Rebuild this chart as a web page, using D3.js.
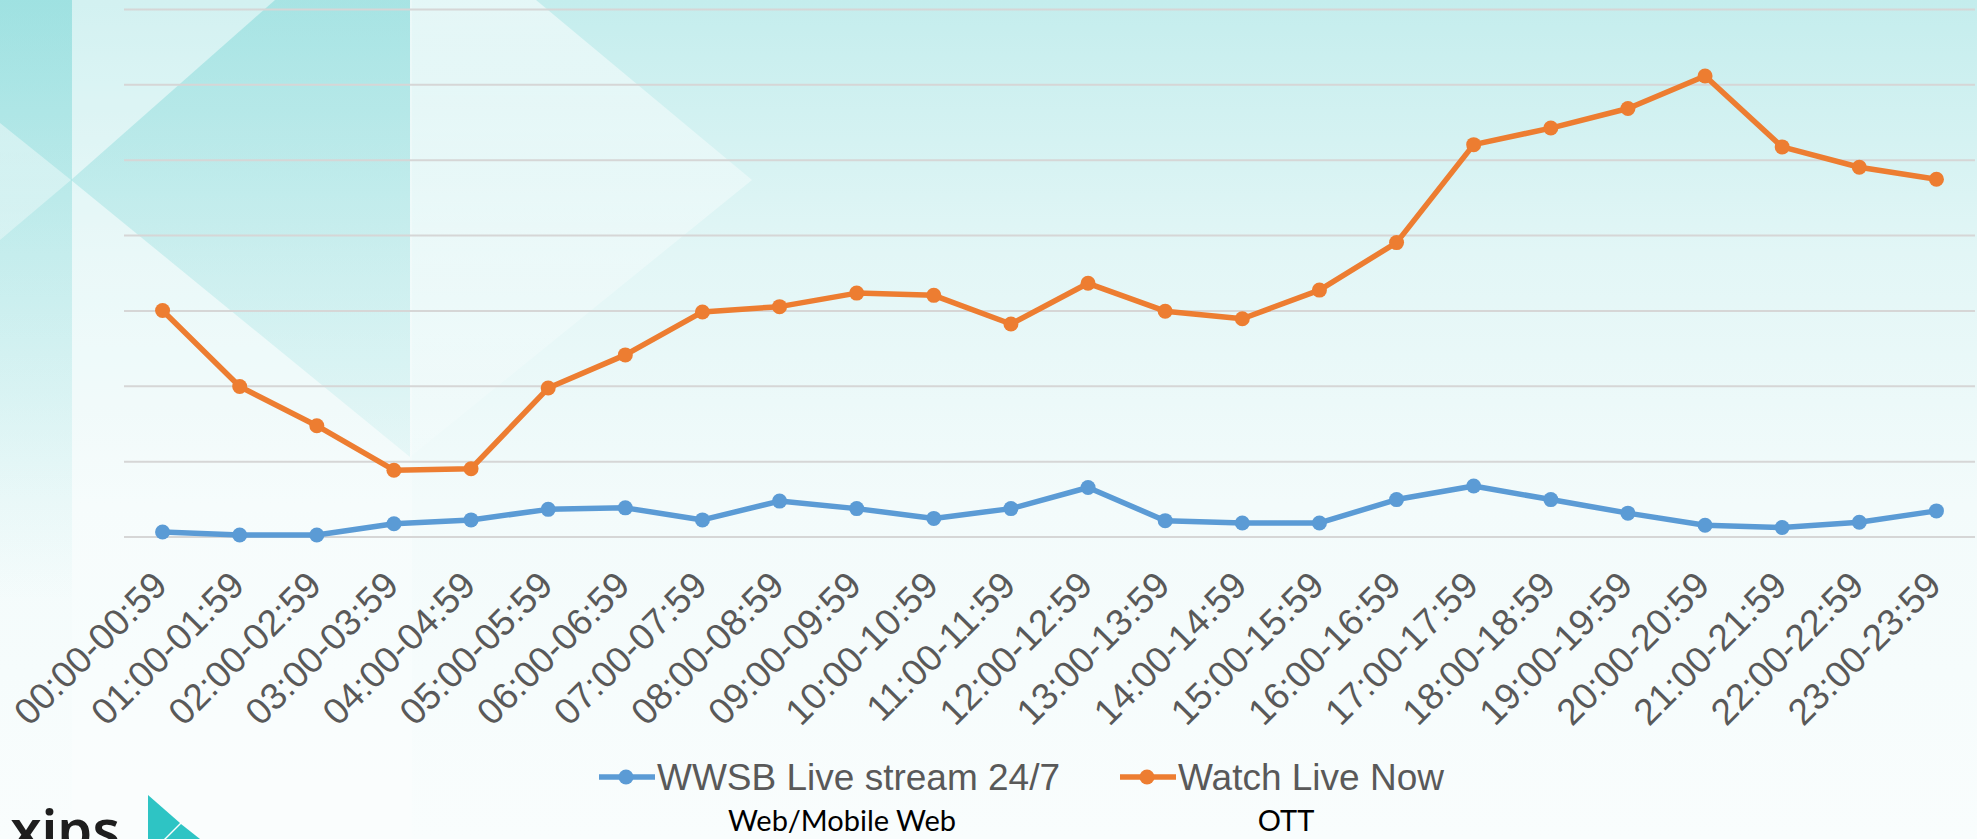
<!DOCTYPE html>
<html>
<head>
<meta charset="utf-8">
<script src="https://cdn.jsdelivr.net/npm/d3@7"></script>
<style>
  html, body { margin: 0; padding: 0; overflow: hidden; background: #f7fcfd; }
</style>
</head>
<body>
<div id="chart"></div>
<script>
// Data
const hours = [
  "00:00-00:59", "01:00-01:59", "02:00-02:59", "03:00-03:59", "04:00-04:59", "05:00-05:59",
  "06:00-06:59", "07:00-07:59", "08:00-08:59", "09:00-09:59", "10:00-10:59", "11:00-11:59",
  "12:00-12:59", "13:00-13:59", "14:00-14:59", "15:00-15:59", "16:00-16:59", "17:00-17:59",
  "18:00-18:59", "19:00-19:59", "20:00-20:59", "21:00-21:59", "22:00-22:59", "23:00-23:59"
];
const webValues = [6, 2, 2, 17, 22, 36, 38, 22, 47, 37, 24, 37, 65, 21, 18, 18, 49, 67, 49, 31, 15, 12, 19, 34];
const ottValues = [300, 199, 147, 88, 90, 197, 241, 298, 305, 323, 320, 282, 336, 299, 289, 327, 390, 520, 542, 568, 611, 517, 490, 474];
const gridValues = [0, 100, 200, 300, 400, 500, 600, 700];
const seriesNames = ["WWSB Live stream 24/7", "Watch Live Now"];
const platformNames = ["Web/Mobile Web", "OTT"];
const colors = ["#5b9bd5", "#ed7d31"];

// Dimensions
const width = 1977;
const height = 839;
const margin = {top: 9, right: 2, bottom: 302.5, left: 124};
const innerW = width - margin.left - margin.right;
const innerH = height - margin.top - margin.bottom;

const svg = d3.select("#chart")
    .append("svg")
    .attr("width", width)
    .attr("height", height);

// Background
const defs = svg.append("defs");
const bg = defs.append("linearGradient")
    .attr("id", "bg").attr("x1", 0).attr("y1", 0).attr("x2", 0).attr("y2", 1);
bg.append("stop").attr("offset", "0%").attr("stop-color", "#c4eded");
bg.append("stop").attr("offset", "30%").attr("stop-color", "#e2f6f6");
bg.append("stop").attr("offset", "60%").attr("stop-color", "#f3fbfb");
bg.append("stop").attr("offset", "100%").attr("stop-color", "#f9fdfd");

const fadeTeal = defs.append("linearGradient")
    .attr("id", "fadeTeal").attr("gradientUnits", "userSpaceOnUse")
    .attr("x1", 0).attr("y1", 0).attr("x2", 0).attr("y2", 600);
fadeTeal.append("stop").attr("offset", "0%").attr("stop-color", "#72d3d3").attr("stop-opacity", 0.45);
fadeTeal.append("stop").attr("offset", "100%").attr("stop-color", "#72d3d3").attr("stop-opacity", 0);

const fadeWhite = defs.append("linearGradient")
    .attr("id", "fadeWhite").attr("gradientUnits", "userSpaceOnUse")
    .attr("x1", 0).attr("y1", 0).attr("x2", 0).attr("y2", 500);
fadeWhite.append("stop").attr("offset", "0%").attr("stop-color", "#ffffff").attr("stop-opacity", 0.55);
fadeWhite.append("stop").attr("offset", "100%").attr("stop-color", "#ffffff").attr("stop-opacity", 0.1);

svg.append("rect")
    .attr("width", width).attr("height", height)
    .attr("fill", "url(#bg)");

const deco = svg.append("g");
deco.append("rect").attr("x", 0).attr("y", 0).attr("width", 72).attr("height", height)
    .attr("fill", "url(#fadeTeal)");
deco.append("rect").attr("x", 72).attr("y", 0).attr("width", 340).attr("height", height)
    .attr("fill", "#ffffff").attr("opacity", 0.25);
deco.append("polygon").attr("points", "71,180 275,0 410,0 410,457")
    .attr("fill", "url(#fadeTeal)");
deco.append("polygon").attr("points", "410,0 536,0 752,180 410,457")
    .attr("fill", "url(#fadeWhite)");
deco.append("polygon").attr("points", "0,123 71,180 0,240")
    .attr("fill", "url(#fadeWhite)");

// Plot
const g = svg.append("g")
    .attr("transform", `translate(${margin.left},${margin.top})`);

const x = d3.scalePoint()
    .domain(hours)
    .range([0, innerW])
    .padding(0.5);

const y = d3.scaleLinear()
    .domain([0, 700])
    .range([innerH, 0]);

// Gridlines
const grid = g.append("g")
    .call(d3.axisLeft(y).tickValues(gridValues).tickSize(-innerW).tickFormat(""));
grid.select(".domain").remove();
grid.selectAll("line")
    .attr("stroke", "#d6d6d6")
    .attr("stroke-width", 2);

// X axis
const xAxis = g.append("g")
    .attr("transform", `translate(0,${innerH})`)
    .call(d3.axisBottom(x).tickSize(0).tickPadding(0));
xAxis.select(".domain").remove();
xAxis.selectAll("text")
    .attr("y", 0)
    .attr("dy", 0)
    .attr("transform", "translate(6,51) rotate(-45)")
    .style("text-anchor", "end")
    .style("font-family", "'Liberation Sans', Arial, sans-serif")
    .style("font-size", "37px")
    .attr("fill", "#595959");

// Lines
const line = d3.line()
    .x((d, i) => x(hours[i]))
    .y(d => y(d));

[webValues, ottValues].forEach((values, s) => {
    g.append("path")
        .datum(values)
        .attr("fill", "none")
        .attr("stroke", colors[s])
        .attr("stroke-width", 5.5)
        .attr("stroke-linejoin", "round")
        .attr("d", line);

    g.selectAll(".dot" + s)
        .data(values)
        .enter()
        .append("circle")
        .attr("class", "dot" + s)
        .attr("cx", (d, i) => x(hours[i]))
        .attr("cy", d => y(d))
        .attr("r", 7.5)
        .attr("fill", colors[s]);
});

// Legend
const legendX = [599, 1120];
const subX = [842, 1286];
const legend = svg.append("g");
seriesNames.forEach((name, i) => {
    const item = legend.append("g").attr("transform", `translate(${legendX[i]},777)`);
    item.append("line")
        .attr("x1", 0).attr("x2", 56)
        .attr("stroke", colors[i]).attr("stroke-width", 5.5);
    item.append("circle")
        .attr("cx", 27).attr("r", 7.5).attr("fill", colors[i]);
    item.append("text")
        .attr("x", 58).attr("y", 12.5)
        .style("font-family", "'Liberation Sans', Arial, sans-serif")
        .style("font-size", "37px")
        .attr("fill", "#595959")
        .text(name);

    legend.append("text")
        .attr("x", subX[i]).attr("y", 831)
        .attr("text-anchor", "middle")
        .style("font-family", "Lato, 'Open Sans', sans-serif")
        .style("font-size", "29px")
        .attr("fill", "#000")
        .text(platformNames[i]);
});

// Logo (partially cut off at the bottom, as in the slide)
const logo = svg.append("g");
logo.append("text")
    .attr("x", 120).attr("y", 850)
    .attr("text-anchor", "end")
    .style("font-family", "'Noto Sans', sans-serif")
    .style("font-weight", 600)
    .style("font-size", "56px")
    .attr("fill", "#1e1e1e")
    .text("xips");
logo.append("polygon").attr("points", "148,795 180,823 164,839 148,839").attr("fill", "#2ec4c4");
logo.append("polygon").attr("points", "181,824 200,839 166,839").attr("fill", "#2ec4c4");
</script>
</body>
</html>
